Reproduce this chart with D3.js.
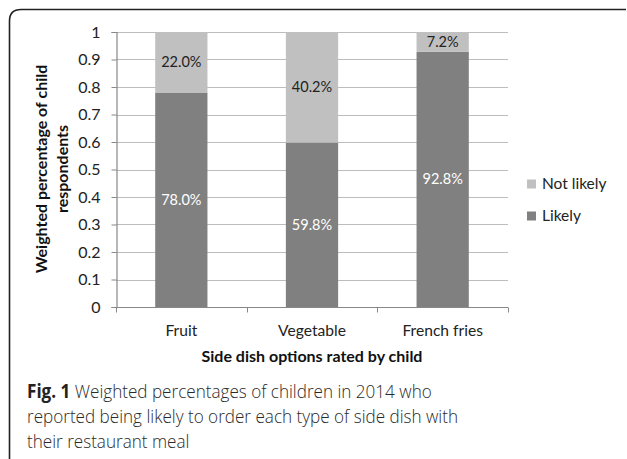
<!DOCTYPE html>
<html>
<head>
<meta charset="utf-8">
<script src="https://cdn.jsdelivr.net/npm/d3@7"></script>
<style>
  html, body { margin: 0; padding: 0; background: #fff; }
  svg { display: block; }
</style>
</head>
<body>
<svg id="chart" width="627" height="459"></svg>
<script>
// Side dish categories and stacked shares (fractions of respondents)
const categories = ["Fruit", "Vegetable", "French fries"];
const likely = [0.780, 0.598, 0.928];
const notLikely = [0.220, 0.402, 0.072];
const seriesNames = ["Likely", "Not likely"];
const seriesColors = ["#808080", "#c0c0c0"];
const yTicks = [0, 0.1, 0.2, 0.3, 0.4, 0.5, 0.6, 0.7, 0.8, 0.9, 1];
const captionLines = [
  "Weighted percentages of children in 2014 who",
  "reported being likely to order each type of side dish with",
  "their restaurant meal"
];

const chartFont = "Lato, 'Open Sans', sans-serif";
const captionFont = "'Open Sans', 'Noto Sans', sans-serif";

const svg = d3.select("#chart");

// Outer frame: top and left edges with a rounded corner
svg.append("path")
  .attr("d", "M9.5,459 L9.5,21 Q9.5,9.5 21,9.5 L626,9.5")
  .attr("fill", "none")
  .attr("stroke", "#222")
  .attr("stroke-width", 1.6);

const plot = { left: 116, right: 508, top: 32, bottom: 307 };

const x = d3.scaleBand()
  .domain(categories)
  .range([plot.left, plot.right])
  .paddingInner(0.6)
  .paddingOuter(0.3);

const y = d3.scaleLinear()
  .domain([0, 1])
  .range([plot.bottom, plot.top]);

const g = svg.append("g");

// Horizontal gridlines
g.selectAll("line.grid")
  .data(yTicks.filter(d => d > 0))
  .join("line")
  .attr("class", "grid")
  .attr("x1", plot.left).attr("x2", plot.right)
  .attr("y1", d => Math.round(y(d)) + 0.5)
  .attr("y2", d => Math.round(y(d)) + 0.5)
  .attr("stroke", "#bdbdbd")
  .attr("stroke-width", 1.2);

// Stacked bars
const rows = categories.map((c, i) => ({ cat: c, Likely: likely[i], "Not likely": notLikely[i] }));
const stacked = d3.stack().keys(seriesNames)(rows);

stacked.forEach((layer, li) => {
  g.selectAll(null)
    .data(layer)
    .join("rect")
    .attr("x", d => x(d.data.cat))
    .attr("width", x.bandwidth())
    .attr("y", d => y(d[1]))
    .attr("height", d => y(d[0]) - y(d[1]))
    .attr("fill", seriesColors[li]);

  // Value labels centered in each segment
  g.selectAll(null)
    .data(layer)
    .join("text")
    .attr("x", d => x(d.data.cat) + x.bandwidth() / 2)
    .attr("y", d => (y(d[0]) + y(d[1])) / 2)
    .attr("dy", "0.35em")
    .attr("text-anchor", "middle")
    .attr("font-family", chartFont)
    .attr("font-size", 14.5)
    .attr("fill", li === 0 ? "#ffffff" : "#222")
    .text(d => d3.format(".1%")(d[1] - d[0]));
});

// Y axis
const yAxis = d3.axisLeft(y).tickValues(yTicks).tickSize(5)
  .tickFormat(d => d === 0 || d === 1 ? String(d) : d3.format(".1f")(d));
const ya = svg.append("g").attr("transform", `translate(${plot.left + 0.5},0)`).call(yAxis);
ya.select(".domain").attr("stroke", "#888").attr("stroke-width", 1.2);
ya.selectAll(".tick line").attr("stroke", "#888");
ya.selectAll(".tick text")
  .attr("font-family", chartFont).attr("font-size", 16).attr("fill", "#222").attr("x", -16);

// X axis with category boundary ticks
const xa = svg.append("g").attr("transform", `translate(0,${plot.bottom + 0.5})`);
xa.append("line")
  .attr("x1", plot.left).attr("x2", plot.right)
  .attr("stroke", "#888").attr("stroke-width", 1.2);
const bounds = d3.range(categories.length + 1).map(i => plot.left + i * (plot.right - plot.left) / categories.length);
xa.selectAll("line.tk")
  .data(bounds)
  .join("line")
  .attr("class", "tk")
  .attr("x1", d => Math.round(d) + 0.5).attr("x2", d => Math.round(d) + 0.5)
  .attr("y1", 0).attr("y2", 5)
  .attr("stroke", "#888");
xa.selectAll("text")
  .data(categories)
  .join("text")
  .attr("x", d => x(d) + x.bandwidth() / 2)
  .attr("y", 23)
  .attr("dy", "0.35em")
  .attr("text-anchor", "middle")
  .attr("font-family", chartFont)
  .attr("font-size", 15.6)
  .attr("fill", "#222")
  .text(d => d);

// Axis titles
svg.append("text")
  .attr("x", (plot.left + plot.right) / 2)
  .attr("y", 356)
  .attr("dy", "0.35em")
  .attr("text-anchor", "middle")
  .attr("font-family", chartFont)
  .attr("font-weight", "bold")
  .attr("font-size", 16)
  .attr("fill", "#111")
  .text("Side dish options rated by child");

const yTitle = svg.append("text")
  .attr("transform", "translate(0,169) rotate(-90)")
  .attr("text-anchor", "middle")
  .attr("font-family", chartFont)
  .attr("font-weight", "bold")
  .attr("font-size", 16)
  .attr("fill", "#111");
yTitle.append("tspan").attr("x", 0).attr("y", 47).text("Weighted percentage of child");
yTitle.append("tspan").attr("x", 0).attr("y", 68).text("respondents");

// Legend (Not likely listed above Likely)
const legendItems = [
  { name: "Not likely", color: seriesColors[1] },
  { name: "Likely", color: seriesColors[0] }
];
const lg = svg.append("g").attr("transform", "translate(527,184)");
legendItems.forEach((it, i) => {
  const row = lg.append("g").attr("transform", `translate(0,${i * 32})`);
  row.append("rect").attr("x", 0).attr("y", -4.5).attr("width", 9).attr("height", 9).attr("fill", it.color);
  row.append("text").attr("x", 15).attr("y", 0).attr("dy", "0.35em")
    .attr("font-family", chartFont).attr("font-size", 15.5).attr("fill", "#222").text(it.name);
});

// Figure caption, set in a light, slightly narrowed face
const cap = svg.append("g")
  .attr("transform", "translate(27,0) scale(0.9,1)")
  .attr("font-family", captionFont).attr("font-size", 19).attr("font-weight", 300).attr("fill", "#2a2a2a");
captionLines.forEach((line, i) => {
  const t = cap.append("text").attr("x", 0).attr("y", 398 + i * 25);
  if (i === 0) {
    t.append("tspan").attr("font-weight", "bold").attr("fill", "#222").text("Fig. 1");
    t.append("tspan").text(" " + line);
  } else {
    t.text(line);
  }
});
</script>
</body>
</html>
